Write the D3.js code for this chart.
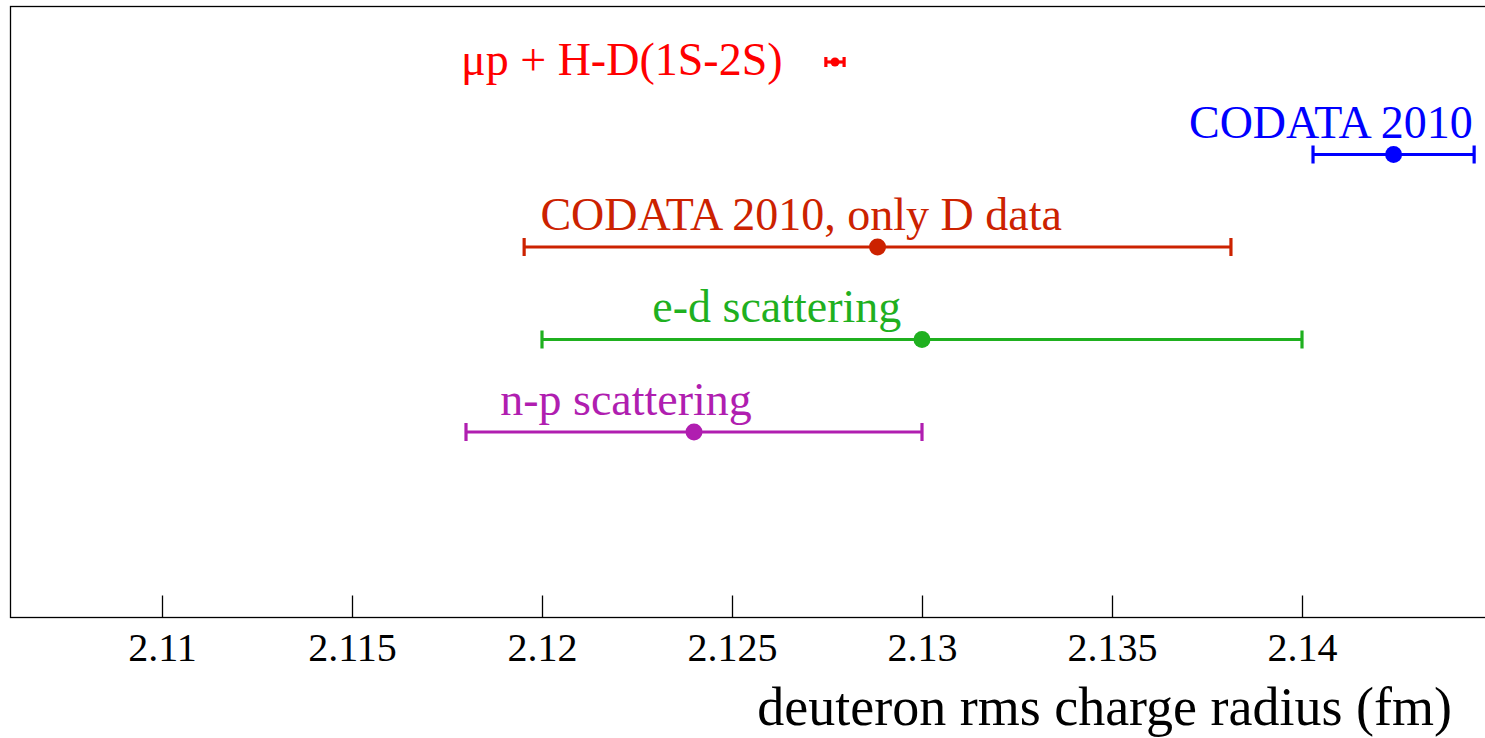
<!DOCTYPE html>
<html>
<head>
<meta charset="utf-8">
<script src="https://cdn.jsdelivr.net/npm/d3@7"></script>
<style>
  body { margin: 0; background: #fff; }
  svg { display: block; font-family: "Liberation Serif", "Times New Roman", serif; }
</style>
</head>
<body>
<div id="chart"></div>
<script>
// measurements of the deuteron charge radius (fm)
const labels = ["\u03bcp + H-D(1S-2S)", "CODATA 2010", "CODATA 2010, only D data", "e-d scattering", "n-p scattering"];
const values = [2.12771, 2.14241, 2.12883, 2.130, 2.124];
const errors = [0.00024, 0.00212, 0.0093, 0.010, 0.006];
const colors = ["#ff0000", "#0000ff", "#cc2200", "#1fb01f", "#b01eb0"];
const tickValues = [2.11, 2.115, 2.12, 2.125, 2.13, 2.135, 2.14];
const axisTitle = "deuteron rms charge radius (fm)";

// svg size
const width = 1485;
const height = 738;

// plot frame
const frameLeft = 10, frameTop = 6, frameBottom = 617;

const x = d3.scaleLinear()
    .domain([2.106, 2.145])
    .range([frameLeft, frameLeft + 0.039 * 38000]);

const y = d3.scaleLinear()
    .domain([0, labels.length - 1])
    .range([62, 432]);

const svg = d3.select("#chart")
    .append("svg")
    .attr("width", width)
    .attr("height", height);

// frame: left, top, bottom (right side runs off the page)
svg.append("rect")
    .attr("x", frameLeft + 0.5)
    .attr("y", frameTop + 0.5)
    .attr("width", x.range()[1] - frameLeft)
    .attr("height", frameBottom - frameTop)
    .attr("fill", "none")
    .attr("stroke", "#000")
    .attr("stroke-width", 1.3);

// x axis with ticks pointing up
const axis = svg.append("g")
    .attr("transform", `translate(0,${frameBottom + 0.5})`)
    .call(d3.axisBottom(x)
        .tickValues(tickValues)
        .tickSizeInner(-22)
        .tickSizeOuter(0)
        .tickPadding(18)
        .tickFormat(d => String(+d.toFixed(3))));

axis.select(".domain").remove();
axis.selectAll(".tick line").attr("stroke", "#000").attr("stroke-width", 1.3);
axis.selectAll(".tick text")
    .attr("y", 43)
    .attr("dy", null)
    .attr("fill", "#000")
    .style("font-family", "Liberation Serif")
    .style("font-size", "40px");

svg.append("text")
    .attr("x", 1452)
    .attr("y", 725)
    .attr("text-anchor", "end")
    .style("font-size", "54px")
    .text(axisTitle);

// label placement (data units for x, pixel offset for y)
const labelX = [2.1221, 2.14076, 2.12682, 2.12618, 2.12221];
const labelDy = [13, -17, -17, -18, -17];

const rows = labels.map((name, i) => ({
    name, value: values[i], err: errors[i], color: colors[i], i
}));

const g = svg.append("g")
    .selectAll("g")
    .data(rows)
    .enter().append("g");

g.append("line")
    .attr("x1", d => x(d.value - d.err))
    .attr("x2", d => x(d.value + d.err))
    .attr("y1", d => y(d.i))
    .attr("y2", d => y(d.i))
    .attr("stroke", d => d.color)
    .attr("stroke-width", 3.2);

// end caps
[-1, 1].forEach(s => {
    g.append("line")
        .attr("x1", d => x(d.value + s * d.err))
        .attr("x2", d => x(d.value + s * d.err))
        .attr("y1", d => y(d.i) - (d.i === 0 ? 5 : 9))
        .attr("y2", d => y(d.i) + (d.i === 0 ? 5 : 9))
        .attr("stroke", d => d.color)
        .attr("stroke-width", 3.2);
});

g.append("circle")
    .attr("cx", d => x(d.value))
    .attr("cy", d => y(d.i))
    .attr("r", d => d.i === 0 ? 4.5 : 8.5)
    .attr("fill", d => d.color);

g.append("text")
    .attr("x", d => x(labelX[d.i]))
    .attr("y", d => y(d.i) + labelDy[d.i])
    .attr("text-anchor", "middle")
    .attr("fill", d => d.color)
    .style("font-size", "46px")
    .text(d => d.name);
</script>
</body>
</html>
